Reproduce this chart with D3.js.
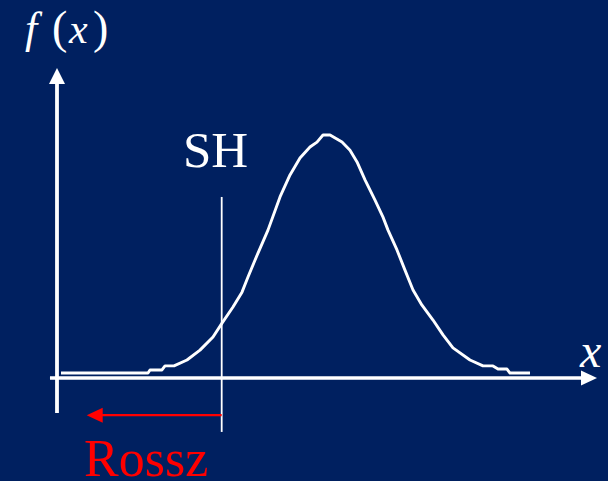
<!DOCTYPE html>
<html>
<head>
<meta charset="utf-8">
<script src="https://cdn.jsdelivr.net/npm/d3@7"></script>
<style>
  html, body { margin: 0; padding: 0; background: #002060; }
  svg { display: block; }
</style>
</head>
<body>
<svg id="chart" width="608" height="481"></svg>
<script>
// Density curve f(x), sampled points (x in axis units, y in density units)
const curveX = [0.074, 1.685, 1.722, 1.944, 2.0, 2.167, 2.407, 2.648, 2.889, 3.056,
                3.259, 3.426, 3.537, 3.722, 3.907, 4.130, 4.315, 4.5, 4.685, 4.815,
                4.926, 5.056, 5.278, 5.426, 5.556, 5.704, 5.889, 6.037, 6.130, 6.296,
                6.444, 6.593, 6.759, 6.963, 7.148, 7.333, 7.648, 7.889, 8.074, 8.167,
                8.333, 8.389, 8.759];
const curveY = [0.016, 0.016, 0.026, 0.026, 0.039, 0.039, 0.058, 0.090, 0.132, 0.177,
                0.229, 0.277, 0.326, 0.403, 0.477, 0.584, 0.655, 0.710, 0.745, 0.761,
                0.784, 0.784, 0.761, 0.735, 0.697, 0.639, 0.574, 0.519, 0.477, 0.413,
                0.348, 0.284, 0.235, 0.187, 0.139, 0.097, 0.058, 0.039, 0.039, 0.029,
                0.029, 0.016, 0.016];

// Threshold line "SH" and the "Rossz" (bad) region arrow
const thresholdX = [3.05];
const thresholdSpan = [-0.174, 0.584];
const badArrowX = [3.05, 0.55];
const badArrowY = [-0.12];

// Axis extents
const xAxisSpan = [-0.13, 10];
const yAxisSpan = [-0.113, 1];

const labels = { sh: "SH", bad: "Rossz", xName: "x" };

const svg = d3.select("#chart");
const W = 608, H = 481;

svg.append("rect").attr("width", W).attr("height", H).attr("fill", "#002060");

const x = d3.scaleLinear().domain([0, 10]).range([57, 597]);
const y = d3.scaleLinear().domain([0, 1]).range([378, 68]);

const white = "#ffffff";
const red = "#ff0000";
const serif = "'Liberation Serif', 'Times New Roman', serif";

// x axis with arrow
const ax0 = x(xAxisSpan[0]), ax1 = x(xAxisSpan[1]), ay = y(0);
svg.append("line")
  .attr("x1", ax0).attr("x2", ax1 - 10).attr("y1", ay).attr("y2", ay)
  .attr("stroke", white).attr("stroke-width", 3.5);
svg.append("path")
  .attr("d", `M${ax1},${ay} L${ax1 - 16},${ay - 7.5} L${ax1 - 16},${ay + 7.5} Z`)
  .attr("fill", white);

// y axis with arrow
const yx = x(0), yb = y(yAxisSpan[0]), yt = y(yAxisSpan[1]);
svg.append("line")
  .attr("x1", yx).attr("x2", yx).attr("y1", yb).attr("y2", yt + 10)
  .attr("stroke", white).attr("stroke-width", 3.8);
svg.append("path")
  .attr("d", `M${yx},${yt} L${yx - 8},${yt + 16} L${yx + 8},${yt + 16} Z`)
  .attr("fill", white);

// density curve
const pts = curveX.map((v, i) => [v, curveY[i]]);
svg.append("path")
  .datum(pts)
  .attr("d", d3.line().x(d => x(d[0])).y(d => y(d[1])))
  .attr("fill", "none")
  .attr("stroke", white)
  .attr("stroke-width", 2.9)
  .attr("stroke-linejoin", "round");

// threshold line
svg.selectAll(".thr").data(thresholdX).enter().append("line")
  .attr("class", "thr")
  .attr("x1", d => x(d)).attr("x2", d => x(d))
  .attr("y1", y(thresholdSpan[1])).attr("y2", y(thresholdSpan[0]))
  .attr("stroke", white).attr("stroke-width", 1.8);

// red arrow pointing left
const rx0 = x(badArrowX[0]), rx1 = x(badArrowX[1]), ry = y(badArrowY[0]);
svg.append("line")
  .attr("x1", rx0).attr("x2", rx1 + 10).attr("y1", ry).attr("y2", ry)
  .attr("stroke", red).attr("stroke-width", 2.2);
svg.append("path")
  .attr("d", `M${rx1},${ry} L${rx1 + 16},${ry - 7.5} L${rx1 + 16},${ry + 7.5} Z`)
  .attr("fill", red);

// labels
const fx = svg.append("text")
  .attr("y", 43)
  .attr("font-family", serif).attr("font-size", 42).attr("fill", white);
fx.append("tspan").attr("x", 25).attr("font-style", "italic").attr("font-size", 44).text("f");
fx.append("tspan").attr("x", 52).attr("font-size", 46).text("(");
fx.append("tspan").attr("x", 69).attr("font-style", "italic").text("x");
fx.append("tspan").attr("x", 93).attr("font-size", 46).text(")");

svg.append("text")
  .attr("x", 580).attr("y", 367)
  .attr("font-family", serif).attr("font-size", 48).attr("font-style", "italic")
  .attr("fill", white).text(labels.xName);

svg.append("text")
  .attr("x", 183).attr("y", 167)
  .attr("font-family", serif).attr("font-size", 51)
  .attr("fill", white).text(labels.sh);

svg.append("text")
  .attr("x", 84).attr("y", 476)
  .attr("font-family", serif).attr("font-size", 52)
  .attr("fill", red).text(labels.bad);
</script>
</body>
</html>
